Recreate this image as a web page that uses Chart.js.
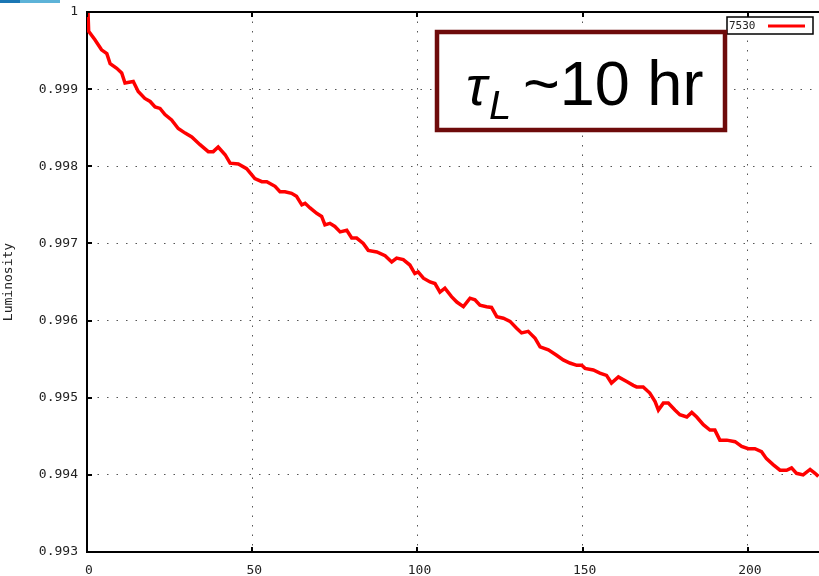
<!DOCTYPE html>
<html>
<head>
<meta charset="utf-8">
<script src="https://cdn.jsdelivr.net/npm/chart.js@4.4.1/dist/chart.umd.min.js"></script>
<style>
  body { margin: 0; background: #fff; }
  #wrap { width: 819px; height: 576px; }
</style>
</head>
<body>
<div id="wrap"><canvas id="lumiChart" width="819" height="576"></canvas></div>
<script>
// datos (tiempo vs luminosidad normalizada)
const seriesLabel = '7530';
const xTicks = [0, 50, 100, 150, 200];
const yTicks = [0.993, 0.994, 0.995, 0.996, 0.997, 0.998, 0.999, 1];

const xs = [0.3, 0.5, 2.4, 4.4, 6.0, 7.0, 9.0, 10.5, 11.5, 14.0,
  15.5, 17.5, 19.1, 20.6, 22.1, 23.6, 25.6, 27.6, 29.7, 31.7,
  34.2, 36.7, 38.2, 39.7, 41.8, 43.3, 45.8, 48.3, 50.8, 52.9,
  54.4, 56.9, 58.4, 59.9, 61.9, 63.4, 65.0, 66.0, 67.5, 69.5,
  71.0, 72.0, 73.5, 75.0, 76.6, 78.6, 80.1, 81.6, 83.6, 85.1,
  87.7, 90.2, 92.2, 93.7, 95.7, 97.7, 99.2, 100.2, 101.8, 103.8,
  105.3, 106.8, 108.3, 110.3, 111.9, 113.9, 115.9, 117.4, 118.9, 120.9,
  122.4, 124.0, 126.0, 128.0, 130.0, 131.5, 133.5, 135.6, 137.1, 139.6,
  142.1, 144.1, 146.1, 148.2, 149.7, 150.7, 153.2, 155.2, 157.2, 158.7,
  160.8, 163.3, 165.3, 166.3, 168.3, 170.3, 171.9, 172.9, 174.4, 175.9,
  177.9, 179.4, 181.5, 183.0, 184.5, 186.5, 188.5, 190.0, 191.5, 193.6,
  196.1, 198.1, 200.1, 202.1, 204.1, 205.6, 207.7, 209.7, 211.7, 213.2,
  214.7, 216.7, 218.8, 220.3, 221.3];

const lumi = [1.0, 0.99975, 0.99964, 0.99951, 0.99946, 0.99933, 0.99927, 0.99921, 0.99908, 0.99910,
  0.99897, 0.99888, 0.99884, 0.99877, 0.99875, 0.99867, 0.99860, 0.99849, 0.99843, 0.99838,
  0.99828, 0.99819, 0.99819, 0.99825, 0.99815, 0.99804, 0.99803, 0.99797, 0.99784, 0.99780,
  0.99780, 0.99774, 0.99767, 0.99767, 0.99765, 0.99761, 0.99750, 0.99752, 0.99746, 0.99739,
  0.99735, 0.99724, 0.99726, 0.99722, 0.99715, 0.99717, 0.99707, 0.99707, 0.99700, 0.99691,
  0.99689, 0.99684, 0.99676, 0.99681, 0.99679, 0.99672, 0.99661, 0.99663, 0.99655, 0.99650,
  0.99648, 0.99637, 0.99642, 0.99631, 0.99624, 0.99618, 0.99629, 0.99627, 0.99620, 0.99618,
  0.99617, 0.99605, 0.99603, 0.99599, 0.99590, 0.99584, 0.99586, 0.99577, 0.99566, 0.99562,
  0.99555, 0.99549, 0.99545, 0.99542, 0.99542, 0.99538, 0.99536, 0.99532, 0.99529, 0.99519,
  0.99527, 0.99521, 0.99516, 0.99514, 0.99514, 0.99506, 0.99495, 0.99484, 0.99493, 0.99493,
  0.99484, 0.99478, 0.99475, 0.99481, 0.99475, 0.99465, 0.99458, 0.99458, 0.99445, 0.99445,
  0.99443, 0.99437, 0.99434, 0.99434, 0.99430, 0.99421, 0.99413, 0.99406, 0.99406, 0.99409,
  0.99402, 0.99400, 0.99407, 0.99402, 0.99398];

const points = xs.map((x, i) => ({ x: x, y: lumi[i] }));
const monoFont = { family: 'DejaVu Sans Mono', size: 13 };

// marco, ticks internos, leyenda y caja de texto estilo gnuplot
const gnuplotExtras = {
  id: 'gnuplotExtras',
  beforeDraw(chart) {
    const ctx = chart.ctx;
    ctx.save();
    ctx.fillStyle = '#1b77b4';
    ctx.fillRect(0, 0, 20, 3);
    ctx.fillStyle = '#5db3d8';
    ctx.fillRect(20, 0, 40, 3);
    ctx.restore();
  },
  afterDraw(chart) {
    const ctx = chart.ctx;
    const area = chart.chartArea;
    const xs_ = chart.scales.x;
    const ys_ = chart.scales.y;
    ctx.save();
    // borde superior
    ctx.strokeStyle = '#000';
    ctx.lineWidth = 2;
    ctx.beginPath();
    ctx.moveTo(area.left, area.top);
    ctx.lineTo(chart.width, area.top);
    ctx.stroke();
    // ticks hacia adentro
    ctx.lineWidth = 2;
    xs_.ticks.forEach(t => {
      const px = Math.round(xs_.getPixelForValue(t.value));
      ctx.beginPath();
      ctx.moveTo(px, area.bottom);
      ctx.lineTo(px, area.bottom - 5);
      ctx.moveTo(px, area.top);
      ctx.lineTo(px, area.top + 5);
      ctx.stroke();
    });
    ys_.ticks.forEach(t => {
      const py = Math.round(ys_.getPixelForValue(t.value));
      ctx.beginPath();
      ctx.moveTo(area.left, py);
      ctx.lineTo(area.left + 5, py);
      ctx.stroke();
    });
    // leyenda
    const ds = chart.data.datasets[0];
    ctx.fillStyle = '#fff';
    ctx.fillRect(727, 17, 86, 17);
    ctx.strokeStyle = '#000';
    ctx.lineWidth = 1.5;
    ctx.strokeRect(727, 17, 86, 17);
    ctx.fillStyle = '#222';
    ctx.font = '11px "DejaVu Sans Mono"';
    ctx.textBaseline = 'middle';
    ctx.fillText(ds.label, 729, 26);
    ctx.strokeStyle = ds.borderColor;
    ctx.lineWidth = 3;
    ctx.beginPath();
    ctx.moveTo(768, 26);
    ctx.lineTo(805, 26);
    ctx.stroke();
    // caja tau_L
    ctx.fillStyle = '#fff';
    ctx.fillRect(437, 32, 288, 98);
    ctx.strokeStyle = '#6e0b0b';
    ctx.lineWidth = 4.5;
    ctx.strokeRect(437, 32, 288, 98);
    ctx.fillStyle = '#000';
    ctx.textBaseline = 'alphabetic';
    ctx.font = 'italic 56px "Liberation Sans"';
    ctx.fillText('τ', 466, 105);
    ctx.font = 'italic 40px "Liberation Sans"';
    ctx.fillText('L', 489, 119);
    ctx.font = '63px "Liberation Sans"';
    ctx.fillText('~10 hr', 523, 105);
    ctx.restore();
  }
};

new Chart(document.getElementById('lumiChart').getContext('2d'), {
  type: 'line',
  data: {
    datasets: [{
      label: seriesLabel,
      data: points,
      borderColor: '#ff0000',
      borderWidth: 3.5,
      pointRadius: 0,
      tension: 0,
      fill: false
    }]
  },
  options: {
    responsive: false,
    animation: false,
    layout: { padding: { top: 12, right: 0, left: 0, bottom: 0 } },
    plugins: { legend: { display: false }, tooltip: { enabled: false } },
    scales: {
      x: {
        type: 'linear',
        min: 0,
        max: 221.5,
        afterBuildTicks: s => { s.ticks = xTicks.map(v => ({ value: v })); },
        afterFit: s => { s.height = 24; s.paddingLeft = 0; s.paddingRight = 0; },
        ticks: { font: monoFont, color: '#222', padding: 11, maxRotation: 0, labelOffset: 2 },
        grid: { color: '#555', lineWidth: 1, drawTicks: false },
        border: { color: '#000', width: 2, dash: [1.5, 8] }
      },
      y: {
        min: 0.993,
        max: 1,
        afterBuildTicks: s => { s.ticks = yTicks.map(v => ({ value: v })); },
        afterFit: s => { s.width = 87; s.paddingTop = 0; s.paddingBottom = 0; },
        ticks: {
          font: monoFont,
          color: '#222',
          padding: 9,
          callback: v => (v === 1 ? '1' : v.toFixed(3))
        },
        grid: { color: '#555', lineWidth: 1, drawTicks: false },
        border: { color: '#000', width: 2, dash: [1.5, 8] },
        title: {
          display: true,
          text: 'Luminosity',
          font: monoFont,
          color: '#222',
          padding: { top: 1, bottom: 0 }
        }
      }
    }
  },
  plugins: [gnuplotExtras]
});
</script>
</body>
</html>
